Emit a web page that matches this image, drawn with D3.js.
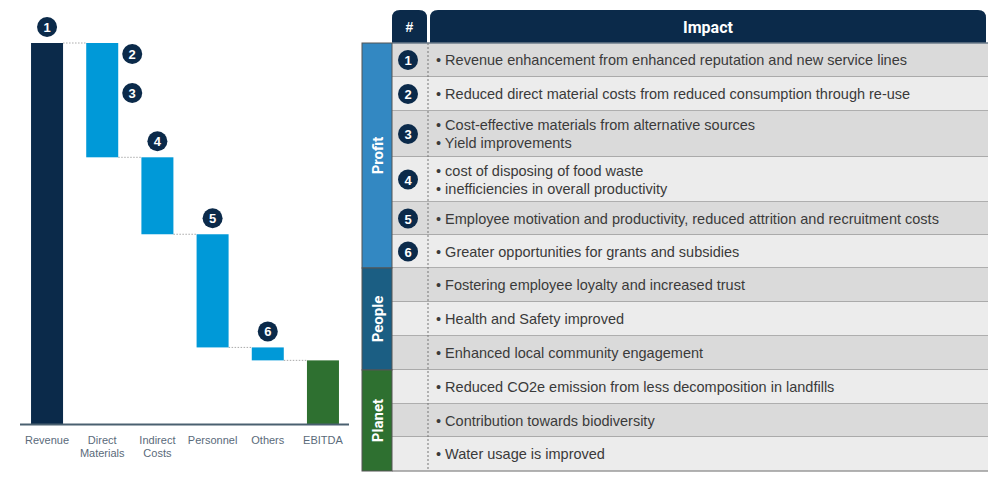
<!DOCTYPE html>
<html><head><meta charset="utf-8">
<script src="https://cdn.jsdelivr.net/npm/d3@7/dist/d3.min.js"></script>
<style>body{margin:0;background:#fff}svg{display:block;font-family:"Liberation Sans",Arial,sans-serif}</style>
</head><body><svg id="c" width="1000" height="484"></svg>
<script>
const categories=["Revenue","Direct\nMaterials","Indirect\nCosts","Personnel","Others","EBITDA"];
const values=[100,-30,-20.2,-29.7,-3.4,16.7];
const kinds=["total","delta","delta","delta","delta","total"];
const badges=[[1,0,"top"],[2,1,"r1"],[3,1,"r2"],[4,2,"top"],[5,3,"top"],[6,4,"top"]];
const groups=["Profit","People","Planet"];
const groupRows=[[0,6],[6,9],[9,12]];
const rowNums=[1,2,3,4,5,6,null,null,null,null,null,null];
const rowTexts=[
 ["Revenue enhancement from enhanced reputation and new service lines"],
 ["Reduced direct material costs from reduced consumption through re-use"],
 ["Cost-effective materials from alternative sources","Yield improvements"],
 ["cost of disposing of food waste","inefficiencies in overall productivity"],
 ["Employee motivation and productivity, reduced attrition and recruitment costs"],
 ["Greater opportunities for grants and subsidies"],
 ["Fostering employee loyalty and increased trust"],
 ["Health and Safety improved"],
 ["Enhanced local community engagement"],
 ["Reduced CO2e emission from less decomposition in landfills"],
 ["Contribution towards biodiversity"],
 ["Water usage is improved"]];
const rowBounds=[43,77,111,157,202,235,268,302,336,370,404,437,471];

const svg=d3.select("#c");
const navy="#0b2a4a";
// waterfall
const x=d3.scaleBand().domain(d3.range(6)).range([20,350]).paddingInner(0.42).paddingOuter(0.2);
const y=d3.scaleLinear().domain([0,100]).range([424,43]);
let run=0;const bars=values.map((v,i)=>{let a,b;if(kinds[i]=="total"){a=0;b=v;run=v;}else{a=run+v;b=run;run=a;}return {i,a,b,v};});
const cols=["#0b2a4a","#0099d8","#0099d8","#0099d8","#0099d8","#2e7030"];
bars.forEach((d,i)=>{if(i<5){const lvl=kinds[i]=="total"?d.b:d.a;svg.append("line").attr("x1",x(i)+x.bandwidth()).attr("x2",x(i+1)).attr("y1",y(lvl)).attr("y2",y(lvl)).attr("stroke","#aaa").attr("stroke-dasharray","1.5,1.5");}});
svg.selectAll("rect.b").data(bars).join("rect").attr("x",d=>x(d.i)).attr("width",x.bandwidth()).attr("y",d=>y(d.b)).attr("height",d=>y(d.a)-y(d.b)).attr("fill",(d,i)=>cols[i]);
svg.append("line").attr("x1",20).attr("x2",349).attr("y1",424.5).attr("y2",424.5).attr("stroke","#4a6070").attr("stroke-width",2);
categories.forEach((c,i)=>{const t=svg.append("text").attr("x",x(i)+x.bandwidth()/2).attr("y",444).attr("text-anchor","middle").attr("font-size",11).attr("fill","#5a6a7a");c.split("\n").forEach((l,k)=>t.append("tspan").attr("x",x(i)+x.bandwidth()/2).attr("dy",k?13:0).text(l));});
function badge(cx,cy,n){svg.append("circle").attr("cx",cx).attr("cy",cy).attr("r",10).attr("fill",navy);svg.append("text").attr("x",cx).attr("y",cy+5).attr("text-anchor","middle").attr("font-size",13).attr("font-weight","bold").attr("fill","#fff").text(n);}
badges.forEach(([n,i,p])=>{const b=bars[i];const top=y(Math.max(b.a,b.b));if(p=="top")badge(x(i)+x.bandwidth()/2,top-16,n);else badge(x(i)+x.bandwidth()+14,p=="r1"?54:93,n);});
// table
const tx0=362,tx1=988;
svg.append("path").attr("d",`M392,43 V18 Q392,10 400,10 H419 Q427,10 427,18 V43 Z`).attr("fill",navy);
svg.append("path").attr("d",`M430,43 V18 Q430,10 438,10 H978 Q986,10 986,18 V43 Z`).attr("fill",navy);
svg.append("text").attr("x",409.5).attr("y",32).attr("text-anchor","middle").attr("fill","#fff").attr("font-weight","bold").attr("font-size",14).text("#");
svg.append("text").attr("x",708).attr("y",33).attr("text-anchor","middle").attr("fill","#fff").attr("font-weight","bold").attr("font-size",16).attr("font-family","Roboto").text("Impact");
rowTexts.forEach((t,r)=>{const y0=rowBounds[r],y1=rowBounds[r+1];
 svg.append("rect").attr("x",392).attr("y",y0).attr("width",tx1-392).attr("height",y1-y0).attr("fill",r%2?"#ececec":"#dadada");
 svg.append("line").attr("x1",392).attr("x2",tx1).attr("y1",y1).attr("y2",y1).attr("stroke","#9a9a9a").attr("stroke-width",1.5);
 if(rowNums[r])badge(408,(y0+y1)/2,rowNums[r]);
 const n=t.length,lh=18,cy=(y0+y1)/2-(n-1)*lh/2;
 t.forEach((s,k)=>{svg.append("text").attr("x",436).attr("y",cy+k*lh+5).attr("font-size",14.5).attr("fill","#3a3a3a").text("•  "+s);});
});
svg.append("line").attr("x1",392).attr("x2",tx1).attr("y1",43).attr("y2",43).attr("stroke","#6a7a8a").attr("stroke-width",1.5);
svg.append("line").attr("x1",428).attr("x2",428).attr("y1",43).attr("y2",471).attr("stroke","#777").attr("stroke-dasharray","2,2");
const gcols=["#3388c2","#1b5e83","#2e7030"];
groups.forEach((g,i)=>{const y0=rowBounds[groupRows[i][0]],y1=rowBounds[groupRows[i][1]];
 svg.append("rect").attr("x",tx0).attr("y",y0).attr("width",30).attr("height",y1-y0).attr("fill",gcols[i]).attr("stroke","#555").attr("stroke-width",1);
 svg.append("text").attr("transform",`translate(${tx0+21},${(y0+y1)/2}) rotate(-90)`).attr("text-anchor","middle").attr("font-size",15).attr("font-weight","bold").attr("fill","#fff").attr("font-family","Roboto").text(g);});
</script></body></html>
